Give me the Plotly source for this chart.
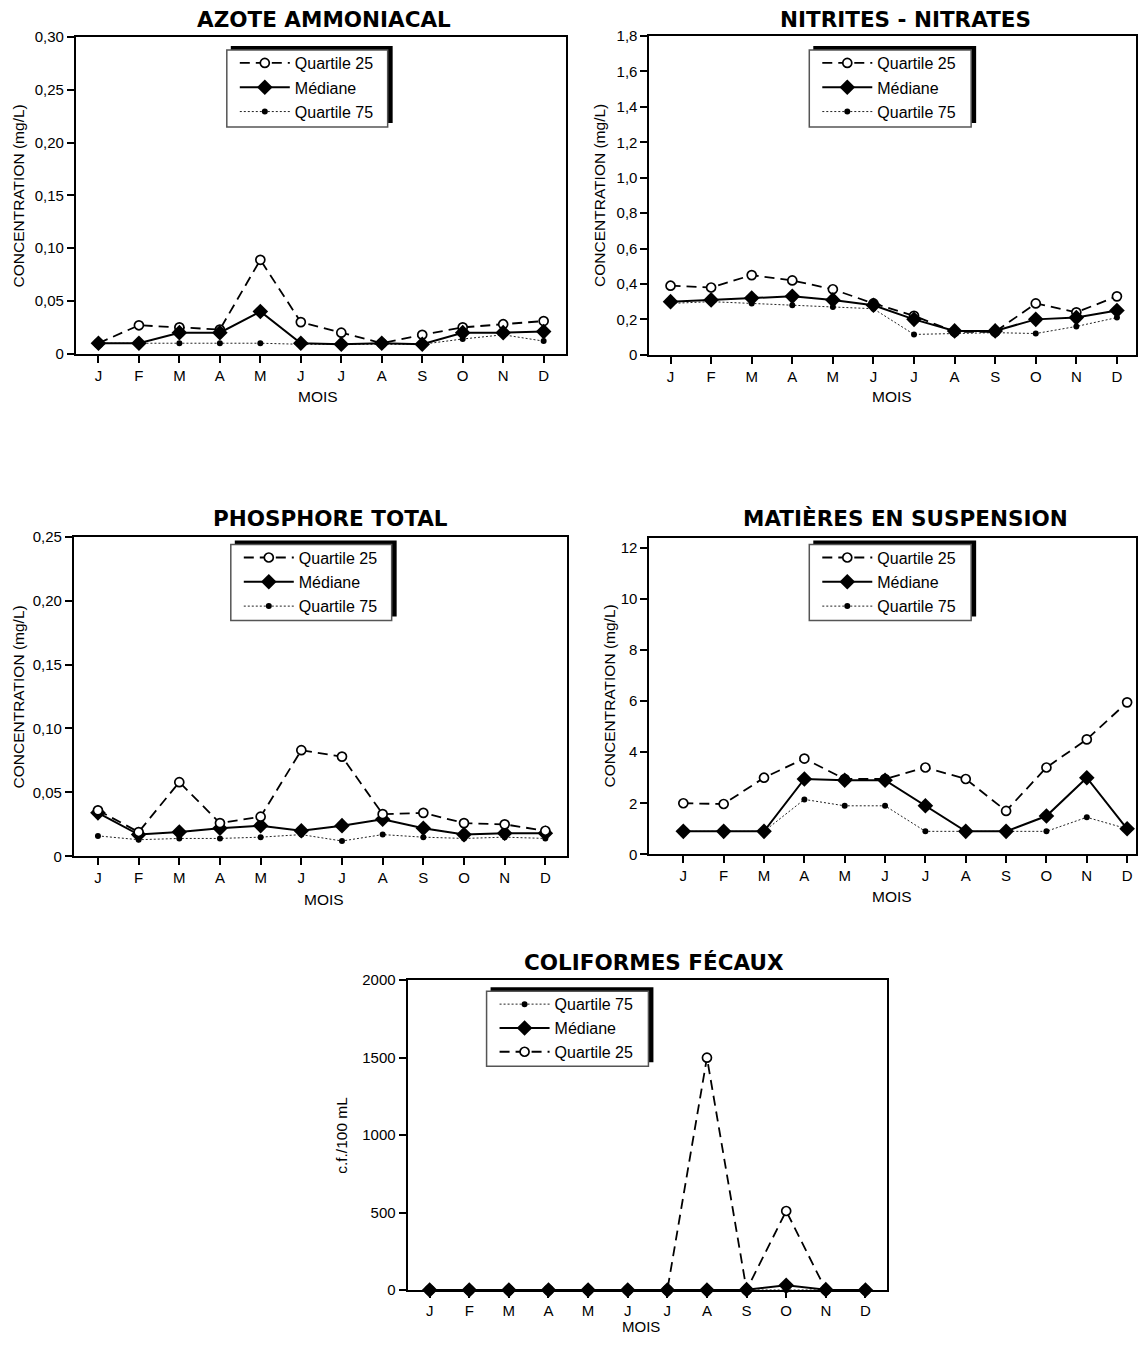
import plotly.graph_objects as go

# page is 1146x1352; the HTML body has an 8px margin, so the figure is 16px smaller
PAGE_W, PAGE_H = 1146, 1352
OFF = 8
W, H = PAGE_W - 2 * OFF, PAGE_H - 2 * OFF

months = ["J", "F", "M", "A", "M", "J", "J", "A", "S", "O", "N", "D"]
x_idx = list(range(12))

# ---------------- data ----------------
azote_q25 = [0.010, 0.027, 0.025, 0.023, 0.089, 0.030, 0.020, 0.010, 0.018, 0.025, 0.028, 0.031]
azote_med = [0.010, 0.010, 0.020, 0.020, 0.040, 0.010, 0.009, 0.010, 0.009, 0.020, 0.020, 0.021]
azote_q75 = [0.010, 0.010, 0.010, 0.010, 0.010, 0.009, 0.009, 0.009, 0.009, 0.014, 0.018, 0.012]

nitr_q25 = [0.39, 0.38, 0.45, 0.42, 0.37, 0.29, 0.22, 0.13, 0.13, 0.29, 0.24, 0.33]
nitr_med = [0.30, 0.31, 0.32, 0.33, 0.31, 0.28, 0.20, 0.135, 0.135, 0.20, 0.21, 0.25]
nitr_q75 = [0.29, 0.30, 0.29, 0.28, 0.27, 0.26, 0.115, 0.12, 0.125, 0.12, 0.16, 0.21]

phos_q25 = [0.036, 0.019, 0.058, 0.026, 0.031, 0.083, 0.078, 0.033, 0.034, 0.026, 0.025, 0.020]
phos_med = [0.034, 0.017, 0.019, 0.022, 0.024, 0.020, 0.024, 0.029, 0.022, 0.017, 0.018, 0.018]
phos_q75 = [0.016, 0.013, 0.014, 0.014, 0.015, 0.017, 0.012, 0.017, 0.015, 0.014, 0.015, 0.014]

mes_q25 = [2.0, 1.97, 3.0, 3.75, 2.95, 2.95, 3.4, 2.95, 1.7, 3.4, 4.5, 5.95]
mes_med = [0.9, 0.9, 0.9, 2.95, 2.9, 2.9, 1.9, 0.9, 0.9, 1.5, 3.0, 1.0]
mes_q75 = [0.9, 0.9, 0.9, 2.15, 1.9, 1.9, 0.9, 0.9, 0.9, 0.9, 1.45, 1.0]

coli_q25 = [0, 0, 0, 0, 0, 0, 0, 1500, 0, 510, 0, 0]
coli_med = [0, 0, 0, 0, 0, 0, 0, 0, 2, 30, 2, 0]
coli_q75 = [0, 0, 0, 0, 0, 0, 0, 0, 0, 0, 0, 0]

# tick labels
azote_ticks = [0, 0.05, 0.10, 0.15, 0.20, 0.25, 0.30]
azote_ticktext = ["0", "0,05", "0,10", "0,15", "0,20", "0,25", "0,30"]
nitr_ticks = [0, 0.2, 0.4, 0.6, 0.8, 1.0, 1.2, 1.4, 1.6, 1.8]
nitr_ticktext = ["0", "0,2", "0,4", "0,6", "0,8", "1,0", "1,2", "1,4", "1,6", "1,8"]
phos_ticks = [0, 0.05, 0.10, 0.15, 0.20, 0.25]
phos_ticktext = ["0", "0,05", "0,10", "0,15", "0,20", "0,25"]
mes_ticks = [0, 2, 4, 6, 8, 10, 12]
mes_ticktext = ["0", "2", "4", "6", "8", "10", "12"]
coli_ticks = [0, 500, 1000, 1500, 2000]
coli_ticktext = ["0", "500", "1000", "1500", "2000"]

titles = ["AZOTE AMMONIACAL", "NITRITES - NITRATES", "PHOSPHORE TOTAL",
          "MATIÈRES EN SUSPENSION", "COLIFORMES FÉCAUX"]
ytitles = ["CONCENTRATION (mg/L)"] * 4 + ["c.f./100 mL"]
names = {"q25": "Quartile 25", "med": "Médiane", "q75": "Quartile 75"}

FONT = "Liberation Sans, Arial, Helvetica, sans-serif"
TITLE_FONT = "DejaVu Sans, Liberation Sans, Arial, sans-serif"

# ---------------- layout (page-pixel boxes) ----------------
panels = [
    dict(box=(76, 566, 36, 353), xr=(-0.556, 11.54), yr=(0, 0.30),
         tv=azote_ticks, tt=azote_ticktext,
         data=dict(q25=azote_q25, med=azote_med, q75=azote_q75),
         order=["q75", "q25", "med"], rank=dict(q25=1, med=2, q75=3),
         title_xy=(324, 18), ylab_x=18, mois_xy=(318, 396),
         leg=(227, 388, 49, 126), gap=0.5),
    dict(box=(650, 1137, 35, 354), xr=(-0.52, 11.47), yr=(0, 1.8),
         tv=nitr_ticks, tt=nitr_ticktext,
         data=dict(q25=nitr_q25, med=nitr_med, q75=nitr_q75),
         order=["q75", "q25", "med"], rank=dict(q25=1, med=2, q75=3),
         title_xy=(906, 18), ylab_x=600, mois_xy=(893, 396),
         leg=(810, 972, 49, 126), gap=0.5),
    dict(box=(74, 567, 536, 856), xr=(-0.59, 11.52), yr=(0, 0.25),
         tv=phos_ticks, tt=phos_ticktext,
         data=dict(q25=phos_q25, med=phos_med, q75=phos_q75),
         order=["q75", "med", "q25"], rank=dict(q25=1, med=2, q75=3),
         title_xy=(331, 518), ylab_x=18, mois_xy=(324, 899),
         leg=(231, 392, 544, 620), gap=0.5),
    dict(box=(650, 1137, 537, 854), xr=(-0.84, 11.22), yr=(0, 12.4),
         tv=mes_ticks, tt=mes_ticktext,
         data=dict(q25=mes_q25, med=mes_med, q75=mes_q75),
         order=["q75", "q25", "med"], rank=dict(q25=1, med=2, q75=3),
         title_xy=(906, 518), ylab_x=611, mois_xy=(893, 896),
         leg=(810, 972, 544, 620), gap=0.5),
    dict(box=(408, 888, 980, 1290), xr=(-0.555, 11.55), yr=(0, 2000),
         tv=coli_ticks, tt=coli_ticktext,
         data=dict(q25=coli_q25, med=coli_med, q75=coli_q75),
         order=["q75", "q25", "med"], rank=dict(q75=1, med=2, q25=3),
         title_xy=(655, 962), ylab_x=341, mois_xy=(642, None),
         leg=(487, 649, 991, 1066), gap=0),
]

styles = {
    "q25": dict(line=dict(color="black", width=1.8, dash="10px,6px"),
                marker=dict(symbol="circle", size=9, color="white",
                            line=dict(width=1.7, color="black"))),
    "med": dict(line=dict(color="black", width=2),
                marker=dict(symbol="diamond", size=12, color="black")),
    "q75": dict(line=dict(color="#222222", width=1, dash="2px,2px"),
                marker=dict(symbol="circle", size=6, color="black")),
}


def px(x):
    return min(max((x - OFF) / W, 0.0), 1.0)


def py(y):
    # slight vertical stretch about the page centre to match the reference layout
    yy = 676 + (y - 676) * 1.012
    return min(max(1 - (yy - OFF) / H, 0.0), 1.0)


fig = go.Figure()
layout = dict(width=W, height=H, margin=dict(l=0, r=0, t=0, b=0),
              paper_bgcolor="white", plot_bgcolor="white",
              font=dict(family=FONT, color="black", size=15),
              showlegend=True)
annotations = []
shapes = []

for i, p in enumerate(panels):
    k = "" if i == 0 else str(i + 1)
    x0, x1, y0, y1 = p["box"]
    legname = "legend" if i == 0 else "legend" + str(i + 1)
    for key in p["order"]:
        st = styles[key]
        fig.add_trace(go.Scatter(
            x=x_idx, y=p["data"][key], mode="lines+markers",
            name=names[key], line=st["line"], marker=st["marker"],
            xaxis="x" + k, yaxis="y" + k, legend=legname,
            legendrank=p["rank"][key], legendgroup=f"{i}{key}",
            cliponaxis=False, hoverinfo="x+y"))
    axis_common = dict(ticks="outside", tickwidth=1.5, tickcolor="black",
                       showline=True, linewidth=2, linecolor="black", mirror=True,
                       showgrid=False, zeroline=False, fixedrange=True,
                       tickfont=dict(size=15, family=FONT, color="black"))
    layout["xaxis" + k] = dict(
        domain=[px(x0), px(x1)], range=list(p["xr"]), anchor="y" + k,
        ticklen=6 if i == 4 else 7,
        tickmode="array", tickvals=x_idx, ticktext=months, **axis_common)
    layout["yaxis" + k] = dict(
        domain=[py(y1), py(y0)], range=list(p["yr"]), anchor="x" + k, ticklen=7,
        tickmode="array", tickvals=p["tv"], ticktext=p["tt"], **axis_common)
    tx, ty = p["title_xy"]
    annotations.append(dict(text="<b>" + titles[i] + "</b>", x=px(tx), y=py(ty),
                            xref="paper", yref="paper", showarrow=False,
                            xanchor="center", yanchor="middle",
                            font=dict(size=21.5, family=TITLE_FONT, color="black")))
    mx, my = p["mois_xy"]
    if my is None:
        annotations.append(dict(text="MOIS", x=px(mx), y=0, xref="paper", yref="paper",
                                showarrow=False, xanchor="center", yanchor="bottom",
                                borderpad=0, font=dict(size=15, family=FONT)))
    else:
        annotations.append(dict(text="MOIS", x=px(mx), y=py(my), xref="paper", yref="paper",
                                showarrow=False, xanchor="center", yanchor="middle",
                                font=dict(size=15.5, family=FONT)))
    annotations.append(dict(text=ytitles[i], x=px(p["ylab_x"]), y=py((y0 + y1) / 2),
                            xref="paper", yref="paper", showarrow=False, textangle=-90,
                            xanchor="center", yanchor="middle",
                            font=dict(size=15.5, family=FONT)))
    # legend frame with black drop shadow (up-right)
    lx0, lx1, ly0, ly1 = p["leg"]
    shapes.append(dict(type="rect", xref="paper", yref="paper",
                       x0=px(lx0 + 4), x1=px(lx1 + 5), y0=py(ly1 - 4), y1=py(ly0 - 4),
                       fillcolor="black", line=dict(width=0), layer="above"))
    shapes.append(dict(type="rect", xref="paper", yref="paper",
                       x0=px(lx0), x1=px(lx1), y0=py(ly1), y1=py(ly0),
                       fillcolor="white", line=dict(width=1.5, color="#555555"),
                       layer="above"))
    layout[legname] = dict(x=px(lx0 + 8), y=py(ly0 - 4), xanchor="left", yanchor="top",
                           bgcolor="rgba(0,0,0,0)", borderwidth=0,
                           itemwidth=50, traceorder="grouped",
                           tracegroupgap=p["gap"],
                           font=dict(size=16, family=FONT, color="black"))

layout["annotations"] = annotations
layout["shapes"] = shapes
fig.update_layout(**layout)

fig.write_html("out.html")
